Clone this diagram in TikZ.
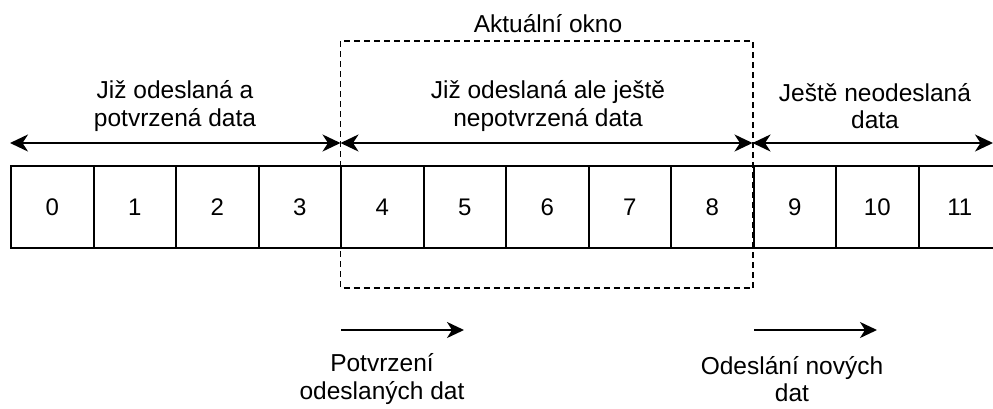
\documentclass[tikz,border=0pt]{standalone}
\usepackage{fontspec}
\setmainfont{Liberation Sans}
\usetikzlibrary{arrows.meta}
\begin{document}
\begin{tikzpicture}[x=1pt,y=-1pt,
  cell/.style={draw,line width=2pt,minimum width=82.5pt,minimum height=82pt,inner sep=0pt,anchor=north west,font=\fontsize{24}{27.5}\selectfont},
  lbl/.style={inner sep=0pt,align=center,font=\fontsize{24.5}{27.5}\selectfont},
  dim/.style={line width=2pt,{Stealth[length=18pt,width=17pt,inset=5.5pt]}-{Stealth[length=18pt,width=17pt,inset=5.5pt]}},
  mv/.style={line width=2pt,-{Stealth[length=17pt,width=16pt,inset=5pt]}},
  win/.style={draw,line width=1.8pt,dash pattern=on 6pt off 4pt}]
\useasboundingbox (0,0) rectangle (993,408);
\clip (0,0) rectangle (993,408);
\fill[white] (0,0) rectangle (993,408);
% cells
\foreach \i in {0,...,11}{
  \node[cell] (c\i) at ({10+82.5*\i},165) {\i};
}
% window
\draw[win] (340.5,41) rectangle (753,288);
\node[lbl] (win) at (548,24) {Aktuální okno};
% coordinates for dimension arrows
\coordinate (a0) at (10,143);
\coordinate (a1) at (340.5,143);
\coordinate (a2) at (752.5,143);
\coordinate (a3) at (993,143);
\draw[dim] (a0) -- (a1);
\draw[dim] (a1) -- (a2);
\draw[dim] (a2) -- (a3);
\node[lbl] (t1) at (175,106) {Již odeslaná a\\potvrzená data};
\node[lbl] (t2) at (548,106) {Již odeslaná ale ještě\\nepotvrzená data};
\node[lbl] (t3) at (875,106) {Ještě neodeslaná\\data};
% movement arrows
\coordinate (m0) at (341,330);
\coordinate (m1) at (464,330);
\coordinate (m2) at (754,330);
\coordinate (m3) at (877,330);
\draw[mv] (m0) -- (m1);
\draw[mv] (m2) -- (m3);
\node[lbl] (b1) at (382,379) {Potvrzení\\odeslaných dat};
\node[lbl] (b2) at (792,379) {Odeslání nových\\dat};
\end{tikzpicture}
\end{document}
